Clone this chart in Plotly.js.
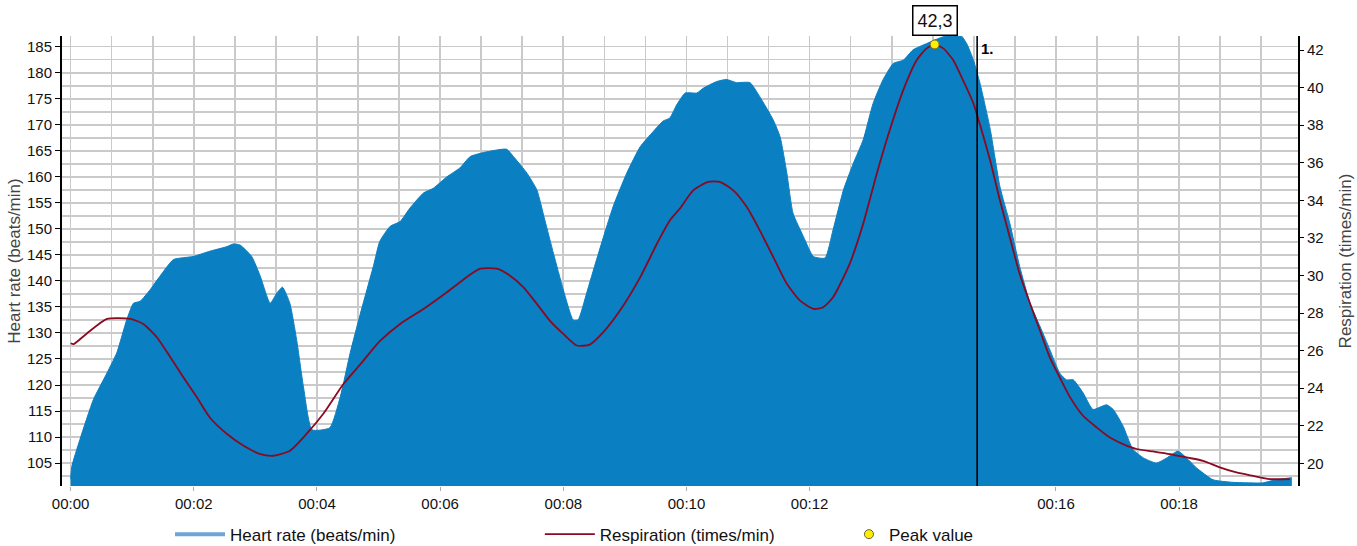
<!DOCTYPE html>
<html>
<head>
<meta charset="utf-8">
<script src="https://cdn.plot.ly/plotly-3.0.1.min.js"></script>
<style>html,body{margin:0;padding:0;background:#fff;}#chart{width:1357px;height:546px;}</style>
</head>
<body>
<div id="chart"></div>
<script>
// Heart rate (beats/min) – time in minutes
const hrTime = [0.00,0.02,0.15,0.37,0.59,0.75,0.91,1.02,1.13,1.29,1.45,1.67,1.99,2.26,2.54,2.64,2.75,2.94,3.08,3.24,3.35,3.44,3.56,3.67,3.78,3.92,4.21,4.38,4.54,4.70,4.92,5.02,5.19,5.35,5.51,5.73,5.89,6.11,6.32,6.49,6.76,7.08,7.19,7.41,7.57,7.70,7.84,8.00,8.16,8.24,8.38,8.54,8.81,9.03,9.25,9.46,9.62,9.73,9.84,9.98,10.17,10.27,10.49,10.65,10.81,11.03,11.19,11.41,11.52,11.63,11.73,11.90,12.06,12.25,12.38,12.55,12.71,12.87,13.03,13.19,13.36,13.52,13.68,13.90,14.17,14.45,14.55,14.66,14.77,14.93,15.09,15.25,15.41,15.58,15.74,15.90,16.06,16.17,16.28,16.44,16.60,16.82,16.93,17.09,17.25,17.42,17.63,17.80,17.98,18.12,18.28,18.55,18.88,19.36,19.53,19.69,19.83];
const hrValue = [102.0,104.4,109.5,117.2,122.3,126.2,132.5,135.7,136.1,138.3,140.9,144.1,144.7,145.7,146.6,147.1,146.9,144.7,140.9,135.7,137.7,138.8,135.7,128.7,119.7,111.4,111.8,117.8,126.2,133.5,143.0,147.6,150.5,151.4,154.0,156.9,157.8,160.0,161.7,163.9,164.8,165.3,163.9,160.7,157.5,151.7,145.3,138.3,132.5,132.5,137.7,144.1,154.3,160.7,165.8,168.7,170.7,171.3,173.8,176.1,176.1,177.0,178.3,178.7,178.1,178.1,175.4,170.9,167.7,160.7,153.0,148.5,144.7,144.4,149.8,157.5,162.6,167.1,174.1,178.6,181.8,182.4,184.4,185.6,186.9,187.2,185.6,182.4,177.8,169.3,158.1,151.1,142.8,135.7,131.3,126.8,122.3,121.0,121.0,118.5,115.3,116.2,115.3,112.1,107.6,106.0,105.0,106.0,107.3,106.0,104.1,101.8,101.3,101.2,101.7,102.0,102.2];

// Respiration (times/min)
const respTime = [0.00,0.05,0.26,0.59,0.97,1.18,1.40,1.62,1.83,2.05,2.26,2.54,2.81,3.08,3.29,3.56,3.83,4.10,4.43,4.70,5.02,5.35,5.73,6.11,6.43,6.65,6.92,7.13,7.35,7.57,7.78,8.00,8.22,8.43,8.65,8.92,9.25,9.52,9.73,9.89,10.11,10.35,10.54,10.76,10.98,11.19,11.41,11.63,11.84,12.06,12.22,12.38,12.65,12.87,13.09,13.30,13.52,13.74,13.90,14.03,14.17,14.33,14.49,14.66,14.76,14.93,15.09,15.25,15.41,15.58,15.74,15.90,16.06,16.23,16.44,16.66,16.87,17.09,17.31,17.58,17.85,18.12,18.39,18.66,18.93,19.20,19.47,19.80];
const respValue = [26.39,26.35,26.90,27.69,27.69,27.42,26.71,25.64,24.58,23.51,22.44,21.56,20.93,20.49,20.40,20.67,21.56,22.62,24.22,25.25,26.50,27.42,28.22,29.11,29.91,30.36,30.36,30.00,29.38,28.49,27.60,26.89,26.27,26.32,26.98,28.13,29.91,31.69,32.93,33.55,34.53,34.98,34.98,34.53,33.64,32.40,30.98,29.56,28.67,28.22,28.31,28.84,30.62,32.76,35.42,37.73,39.87,41.47,42.09,42.30,42.09,41.47,40.40,39.16,38.09,36.13,34.00,32.04,30.09,28.49,27.07,25.64,24.58,23.51,22.53,21.91,21.38,21.02,20.76,20.63,20.49,20.31,20.13,19.78,19.51,19.33,19.16,19.16];

// Peak value
const peakTime = [14.03];
const peakValue = [42.3];
const peakLabel = ["42,3"];

// Event marker
const markerTime = [14.72];
const markerLabel = ["1."];

// Axis ticks (the 00:14 label is not shown in the original)
const xTickVals = [0,2,4,6,8,10,12,16,18];
const xTickText = ["00:00","00:02","00:04","00:06","00:08","00:10","00:12","00:16","00:18"];

const FONT = "'Liberation Sans', Arial, sans-serif";

const traces = [
  {
    x: hrTime, y: hrValue, type: 'scatter', mode: 'lines',
    fill: 'tozeroy', fillcolor: '#0a7fc2',
    line: {color: '#0a7fc2', width: 1, shape: 'spline', smoothing: 0.5},
    showlegend: false, hoverinfo: 'x+y', yaxis: 'y'
  },
  {
    x: [null], y: [null], type: 'scatter', mode: 'lines',
    name: 'Heart rate (beats/min)', line: {color: '#6fa6d8', width: 4},
    legend: 'legend', showlegend: true
  },
  {
    x: respTime, y: respValue, type: 'scatter', mode: 'lines',
    name: 'Respiration (times/min)', line: {color: '#8a0a22', width: 1.8, shape: 'spline', smoothing: 0.6},
    yaxis: 'y2', legend: 'legend2', showlegend: true
  },
  {
    x: peakTime, y: peakValue, type: 'scatter', mode: 'markers',
    name: 'Peak value',
    marker: {color: '#ffee00', size: 9, line: {color: '#666633', width: 1}},
    yaxis: 'y2', legend: 'legend3', showlegend: true
  }
];

const shapes = markerTime.map(t => ({
  type: 'line', xref: 'x', yref: 'paper', x0: t, x1: t, y0: 0, y1: 1,
  line: {color: '#000', width: 1.6}
}));

const annotations = [];
peakTime.forEach((t, i) => annotations.push({
  x: t, xref: 'x', y: 1, yref: 'paper', yanchor: 'bottom', xanchor: 'center',
  text: peakLabel[i], showarrow: false, font: {family: FONT, size: 18, color: '#111'},
  bgcolor: '#fff', bordercolor: '#000', borderwidth: 1.5, borderpad: 4
}));
markerTime.forEach((t, i) => annotations.push({
  x: t, xref: 'x', y: 0.995, yref: 'paper', yanchor: 'top', xanchor: 'left', xshift: 2,
  text: '<b>' + markerLabel[i] + '</b>', showarrow: false, font: {family: FONT, size: 15, color: '#000'}
}));

const legendCommon = {
  orientation: 'h', yref: 'paper', y: -0.108, yanchor: 'middle', xanchor: 'left',
  font: {family: FONT, size: 17, color: '#111'}, bgcolor: 'rgba(0,0,0,0)', itemwidth: 50,
  tracegroupgap: 0
};

const layout = {
  width: 1357, height: 546,
  margin: {l: 62, r: 59, t: 36, b: 60, autoexpand: false},
  paper_bgcolor: '#fff', plot_bgcolor: '#fff',
  font: {family: FONT, size: 15, color: '#111'},
  xaxis: {
    range: [-0.14, 19.93], tickvals: xTickVals, ticktext: xTickText,
    showgrid: false,
    minor: {dtick: 2/3, tick0: 0, showgrid: true, gridcolor: '#cacaca', gridwidth: 1.6},
    ticks: 'outside', ticklen: 4, tickcolor: '#aaa', showline: false, zeroline: false,
    tickfont: {family: FONT, size: 15, color: '#111'}
  },
  yaxis: {
    range: [100.6, 187.05], tick0: 105, dtick: 5,
    showgrid: true, gridcolor: '#cacaca', gridwidth: 1.6,
    minor: {dtick: 2.5, tick0: 105, showgrid: true, gridcolor: '#cacaca', gridwidth: 1.6},
    showline: true, linecolor: '#000', linewidth: 2,
    ticks: 'outside', ticklen: 5, tickcolor: '#000', zeroline: false,
    tickfont: {family: FONT, size: 15, color: '#111'},
    title: {text: 'Heart rate (beats/min)', font: {family: FONT, size: 17, color: '#444'}, standoff: 2}
  },
  yaxis2: {
    overlaying: 'y', side: 'right', range: [18.79, 42.75], tick0: 20, dtick: 2,
    showgrid: false, showline: true, linecolor: '#000', linewidth: 2,
    ticks: 'outside', ticklen: 4, tickcolor: '#000', zeroline: false,
    tickfont: {family: FONT, size: 15, color: '#111'},
    title: {text: 'Respiration (times/min)', font: {family: FONT, size: 17, color: '#444'}, standoff: 16}
  },
  legend: Object.assign({}, legendCommon, {x: 0.0874}),
  legend2: Object.assign({}, legendCommon, {x: 0.3866}),
  legend3: Object.assign({}, legendCommon, {x: 0.6367, itemwidth: 30}),
  shapes: shapes,
  annotations: annotations,
  showlegend: true
};

Plotly.newPlot('chart', traces, layout, {displayModeBar: false, staticPlot: true});
</script>
</body>
</html>
